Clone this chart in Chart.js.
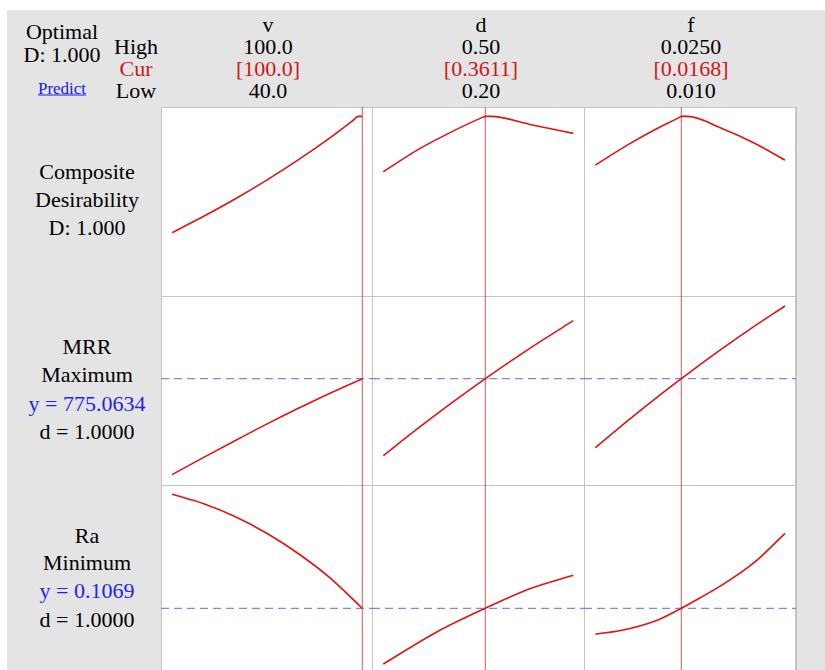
<!DOCTYPE html>
<html><head><meta charset="utf-8">
<script src="https://cdn.jsdelivr.net/npm/chart.js@4.4.1/dist/chart.umd.min.js"></script>
<style>
html,body{margin:0;padding:0;width:825px;height:670px;overflow:hidden;background:#fff;}
#bg{position:absolute;left:7px;top:10px;width:818px;height:660px;background:#e4e4e4;}
#plot{position:absolute;left:161px;top:107px;width:635px;height:570px;background:#fff;}
.ln{position:absolute;background:#c4c4c4;}
.t{position:absolute;transform:translate(-50%,-50%);white-space:nowrap;font-family:"Liberation Serif","Times New Roman",serif;font-size:22px;color:#000;line-height:1;}
canvas{position:absolute;}
</style></head><body>
<div id="bg"></div>
<div id="plot"></div>
<script>
// ---- header texts ----
const factorNames = ['v', 'd', 'f'];
const highLabels = ['100.0', '0.50', '0.0250'];
const curLabels = ['[100.0]', '[0.3611]', '[0.0168]'];
const lowLabels = ['40.0', '0.20', '0.010'];
const rowTitles = [
  ['Composite', 'Desirability', 'D: 1.000'],
  ['MRR', 'Maximum', 'y = 775.0634', 'd = 1.0000'],
  ['Ra', 'Minimum', 'y = 0.1069', 'd = 1.0000']
];

// ---- factor settings ----
const lowSettings = [40, 0.20, 0.010];
const highSettings = [100, 0.50, 0.025];
const curSettings = [100.0, 0.3611, 0.0168];
const targets = [null, 775.0634, 0.1069];

// ---- Composite desirability curves ----
const vDesX = [40, 50, 60, 70, 80, 90, 97, 98.7, 100];
const vDesY = [0.317, 0.413, 0.516, 0.627, 0.747, 0.877, 0.975, 1.0, 1.0];
const dDesX = [0.20, 0.2535, 0.3063, 0.3567, 0.3611, 0.3698, 0.4333, 0.50];
const dDesY = [0.675, 0.802, 0.906, 0.994, 1.0, 1.0, 0.951, 0.900];
const fDesX = [0.010, 0.01253, 0.01492, 0.01665, 0.0168, 0.01732, 0.01997, 0.02263, 0.025];
const fDesY = [0.714, 0.831, 0.930, 0.994, 1.0, 1.0, 0.930, 0.841, 0.743];

// ---- MRR curves ----
const vMrrX = [40, 50, 60, 70, 80, 90, 100];
const vMrrY = [242, 338, 432, 524, 612, 696, 775.06];
const dMrrX = [0.20, 0.25, 0.30, 0.35, 0.3611, 0.40, 0.45, 0.50];
const dMrrY = [347.3, 486.3, 619.6, 747.4, 775.06, 869.6, 986.2, 1097.3];
const fMrrX = [0.010, 0.0125, 0.015, 0.0168, 0.0175, 0.020, 0.0225, 0.025];
const fMrrY = [391.7, 537.8, 677.9, 775.06, 812.1, 940.3, 1062.7, 1179.1];

// ---- Ra curves ----
const vRaX = [40, 50, 60, 70, 80, 90, 100];
const vRaY = [0.2209, 0.2114, 0.1984, 0.1817, 0.1612, 0.1369, 0.1069];
const dRaX = [0.20, 0.2852, 0.3611, 0.4333, 0.50];
const dRaY = [0.0512, 0.0835, 0.1069, 0.1269, 0.1399];
const fRaX = [0.010, 0.0125, 0.015, 0.0168, 0.0175, 0.020, 0.0225, 0.025];
const fRaY = [0.0809, 0.0860, 0.0955, 0.1069, 0.1117, 0.1300, 0.1520, 0.1819];

const curves = [
  [[vDesX, vDesY], [dDesX, dDesY], [fDesX, fDesY]],
  [[vMrrX, vMrrY], [dMrrX, dMrrY], [fMrrX, fMrrY]],
  [[vRaX, vRaY], [dRaX, dRaY], [fRaX, fRaY]]
];

// ---- layout ----
const colLeft = [161, 372, 584];
const colWidth = [211, 212, 212];
const rowTop = [107, 296, 485];
const rowHeight = 189;
const xRanges = [[36.53, 103.06], [0.1822, 0.5169], [0.009107, 0.02587]];
const yRanges = [[-0.055, 1.055], [184.5, 1234.5], [0.0412, 0.2302]];

function addLine(l, t, w, h) {
  const d = document.createElement('div');
  d.className = 'ln';
  d.style.left = l + 'px'; d.style.top = t + 'px';
  d.style.width = w + 'px'; d.style.height = h + 'px';
  document.body.appendChild(d);
}
addLine(161, 107, 635, 1);
addLine(161, 296, 635, 1);
addLine(161, 485, 635, 1);
addLine(161, 107, 1, 570);
addLine(372, 107, 1, 570);
addLine(584, 107, 1, 570);
addLine(795, 107, 2, 570);

function addText(txt, x, y, opts) {
  const d = document.createElement('div');
  d.className = 't';
  d.textContent = txt;
  d.style.left = x + 'px'; d.style.top = y + 'px';
  if (opts) Object.assign(d.style, opts);
  document.body.appendChild(d);
}

const RED_TXT = '#cc1818';
const BLUE_TXT = '#2323ee';
addText('Optimal', 62, 32);
addText('D: 1.000', 62, 55);
addText('Predict', 62, 88, {color: '#1a1aee', fontSize: '17px', textDecoration: 'underline'});
addText('High', 136, 47);
addText('Cur', 136, 69, {color: RED_TXT});
addText('Low', 136, 91);
const colCenters = [268, 481, 691];
factorNames.forEach((n, i) => {
  addText(n, colCenters[i], 25);
  addText(highLabels[i], colCenters[i], 47);
  addText(curLabels[i], colCenters[i], 69, {color: RED_TXT});
  addText(lowLabels[i], colCenters[i], 91);
});
const titleY = [[172, 200, 228], [347, 375, 404, 432], [536, 563, 591, 620]];
rowTitles.forEach((lines, r) => {
  lines.forEach((s, k) => {
    addText(s, 87, titleY[r][k], s.startsWith('y =') ? {color: BLUE_TXT} : null);
  });
});

function makePanel(r, c) {
  const cv = document.createElement('canvas');
  cv.width = colWidth[c]; cv.height = rowHeight;
  cv.style.left = colLeft[c] + 'px'; cv.style.top = rowTop[r] + 'px';
  cv.style.width = colWidth[c] + 'px'; cv.style.height = rowHeight + 'px';
  document.body.appendChild(cv);
  const [xs, ys] = curves[r][c];
  const [xMin, xMax] = xRanges[c];
  const [yMin, yMax] = yRanges[r];
  const ds = [
    {data: xs.map((x, i) => ({x: x, y: ys[i]})), borderColor: '#dd1515', borderWidth: 1.6,
     pointRadius: 0, cubicInterpolationMode: 'monotone', fill: false},
    {data: [{x: curSettings[c], y: yMin}, {x: curSettings[c], y: yMax}],
     borderColor: 'rgba(225,40,40,0.8)', borderWidth: 1, pointRadius: 0, fill: false}
  ];
  if (targets[r] !== null) {
    ds.push({data: [{x: xMin, y: targets[r]}, {x: xMax, y: targets[r]}],
      borderColor: 'rgba(70,70,255,0.85)', borderWidth: 1, borderDash: [8, 5], pointRadius: 0, fill: false});
  }
  new Chart(cv, {
    type: 'line',
    data: {datasets: ds},
    options: {
      responsive: false, animation: false, devicePixelRatio: 1,
      layout: {padding: 0}, events: [],
      plugins: {legend: {display: false}, tooltip: {enabled: false}},
      scales: {
        x: {type: 'linear', display: false, min: xMin, max: xMax},
        y: {type: 'linear', display: false, min: yMin, max: yMax}
      }
    }
  });
}
for (let r = 0; r < 3; r++) for (let c = 0; c < 3; c++) makePanel(r, c);
</script>
</body></html>
